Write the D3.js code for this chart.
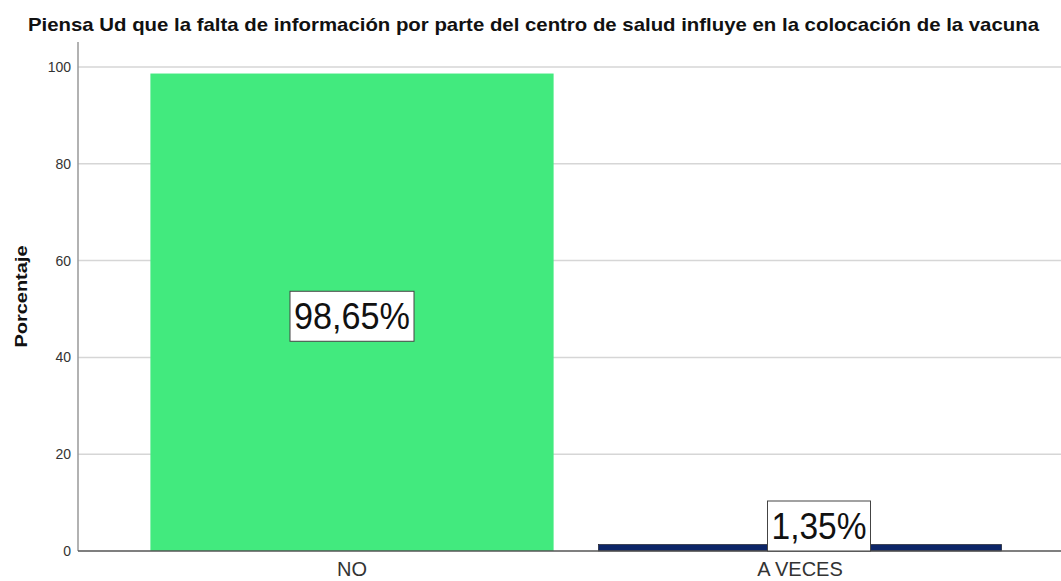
<!DOCTYPE html>
<html>
<head>
<meta charset="utf-8">
<script src="https://cdn.jsdelivr.net/npm/d3@7"></script>
<style>
  body { margin: 0; background: #fff; }
  svg { display: block; font-family: "Liberation Sans", Arial, sans-serif; }
</style>
</head>
<body>
<svg id="chart" width="1061" height="581"></svg>
<script>
const categories = ["NO", "A VECES"];
const percentages = [98.65, 1.35];
const valueLabels = ["98,65%", "1,35%"];
const barColors = ["#42ea7e", "#0c2568"];
const yTicks = [0, 20, 40, 60, 80, 100];

const svg = d3.select("#chart");
const plotLeft = 78, plotRight = 1074, plotTop = 42, plotBottom = 551;

const y = d3.scaleLinear().domain([0, 100]).range([plotBottom, 67]);
const x = d3.scaleBand()
    .domain(categories)
    .range([plotLeft, plotRight])
    .paddingInner(0.1)
    .paddingOuter(0.1616);

// title
svg.append("text")
    .attr("x", 28).attr("y", 31)
    .attr("font-size", 19).attr("font-weight", "bold")
    .attr("fill", "#111")
    .attr("textLength", 1011).attr("lengthAdjust", "spacingAndGlyphs")
    .text("Piensa Ud que la falta de información por parte del centro de salud influye en la colocación de la vacuna");

// grid lines
svg.append("g")
    .selectAll("line")
    .data(yTicks.filter(d => d > 0))
    .enter().append("line")
    .attr("x1", plotLeft).attr("x2", 1061)
    .attr("y1", d => y(d)).attr("y2", d => y(d))
    .attr("stroke", "#d6d6d6").attr("stroke-width", 1.5);

// y axis
const yAxis = svg.append("g")
    .attr("transform", `translate(${plotLeft},0)`)
    .call(d3.axisLeft(y).tickValues(yTicks).tickSize(0).tickPadding(7));
yAxis.select(".domain").remove();
yAxis.selectAll(".tick text").attr("font-size", 14).attr("fill", "#333")
    .attr("font-family", "Liberation Sans, Arial, sans-serif");
svg.append("line")
    .attr("x1", plotLeft).attr("x2", plotLeft).attr("y1", plotTop).attr("y2", plotBottom)
    .attr("stroke", "#999").attr("stroke-width", 1.5);

// y axis title
svg.append("text")
    .attr("transform", `translate(27,${(plotTop + plotBottom) / 2}) rotate(-90)`)
    .attr("text-anchor", "middle")
    .attr("font-size", 17).attr("font-weight", "bold")
    .attr("fill", "#111")
    .attr("textLength", 102).attr("lengthAdjust", "spacingAndGlyphs")
    .text("Porcentaje");

// bars
svg.append("g")
    .selectAll("rect")
    .data(categories)
    .enter().append("rect")
    .attr("x", d => x(d))
    .attr("y", (d, i) => y(percentages[i]))
    .attr("width", x.bandwidth())
    .attr("height", (d, i) => y(0) - y(percentages[i]))
    .attr("fill", (d, i) => barColors[i])
    .attr("stroke", (d, i) => i === 1 ? "#000" : "none")
    .attr("stroke-width", 0.5);

// x axis baseline
svg.append("line")
    .attr("x1", plotLeft).attr("x2", 1061).attr("y1", plotBottom).attr("y2", plotBottom)
    .attr("stroke", "#555").attr("stroke-width", 1.5);

// category labels
const xAxis = svg.append("g")
    .attr("transform", `translate(0,${plotBottom})`)
    .call(d3.axisBottom(x).tickSize(0).tickPadding(11));
xAxis.select(".domain").remove();
xAxis.selectAll(".tick text").attr("font-size", 20).attr("fill", "#333")
    .attr("font-family", "Liberation Sans, Arial, sans-serif");

// value label boxes
const labelFont = 36;
const labelWidths = [116, 95];
const labels = svg.append("g")
    .selectAll("g")
    .data(categories)
    .enter().append("g")
    .attr("transform", (d, i) => {
        const cx = x(d) + x.bandwidth() / 2 + (i === 1 ? 19 : 0);
        const mid = i === 0 ? (y(percentages[i]) + y(0)) / 2 + 4 : plotBottom - 25;
        return `translate(${cx},${mid})`;
    });
labels.each(function(d, i) {
    const g = d3.select(this);
    const w = labelWidths[i];
    g.append("rect")
        .attr("x", -w / 2 - 4).attr("y", -25)
        .attr("width", w + 8).attr("height", 50)
        .attr("fill", "#fff")
        .attr("stroke", "#444").attr("stroke-width", 1);
    g.append("text")
        .attr("x", -w / 2)
        .attr("dy", "0.36em")
        .attr("font-size", labelFont)
        .attr("fill", "#111")
        .attr("textLength", w).attr("lengthAdjust", "spacingAndGlyphs")
        .text(valueLabels[i]);
});
</script>
</body>
</html>
